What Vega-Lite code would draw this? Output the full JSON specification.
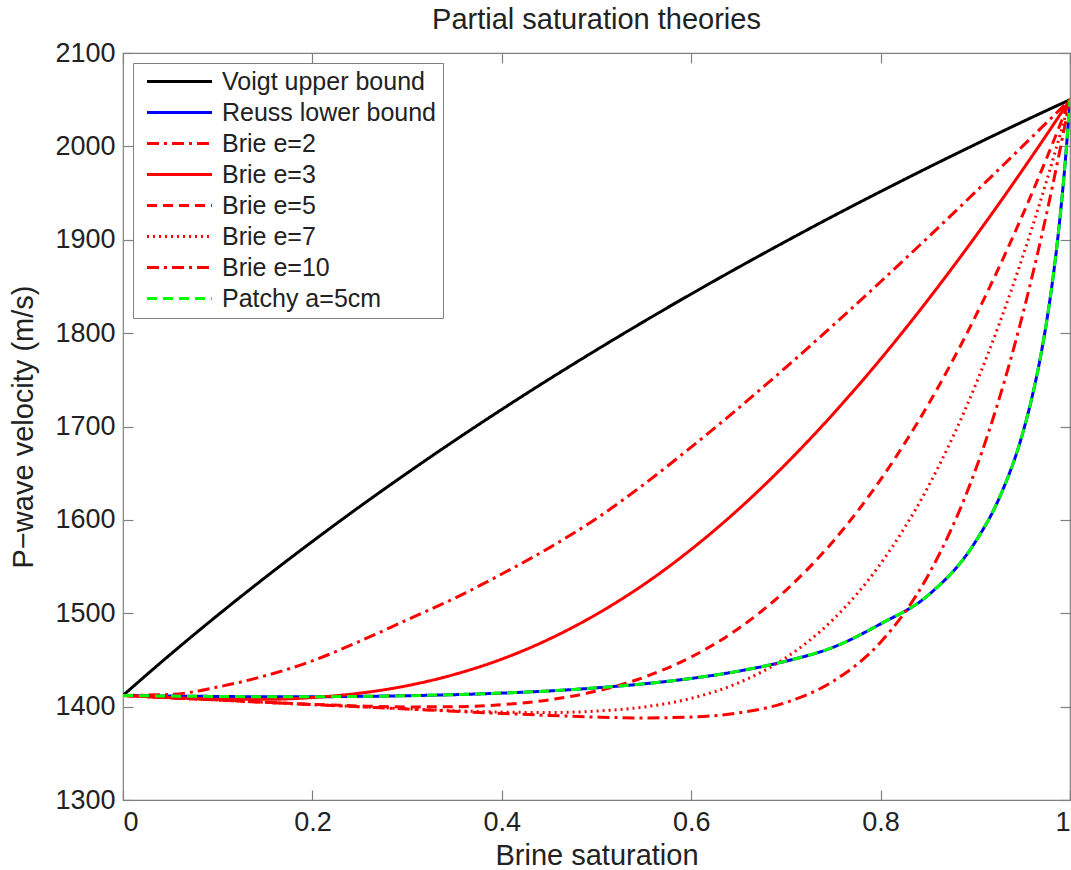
{
  "$schema": "https://vega.github.io/schema/vega-lite/v6.json",
  "width": 947,
  "height": 747,
  "autosize": "none",
  "padding": {"left": 123, "top": 53, "right": 1, "bottom": 70},
  "background": "white",
  "title": {"text": "Partial saturation theories", "font": "Liberation Sans", "fontSize": 29, "fontWeight": "normal", "color": "#222222", "offset": 4, "anchor": "middle"},
  "config": {
    "view": {"stroke": "#808080", "strokeWidth": 1.2},
    "axis": {"grid": false, "domain": false, "tickColor": "#808080", "tickSize": -10, "tickWidth": 1.2, "labelFont": "Liberation Sans", "labelFontSize": 27, "labelColor": "#222222", "titleFont": "Liberation Sans", "titleFontSize": 29, "titleFontWeight": "normal", "titleColor": "#222222"}
  },
  "datasets": {
    "main": [
      {"s":0,"v":1412,"c":"Voigt upper bound"},{"s":0.05,"v":1455.9,"c":"Voigt upper bound"},{"s":0.1,"v":1497.9,"c":"Voigt upper bound"},{"s":0.15,"v":1538.2,"c":"Voigt upper bound"},{"s":0.2,"v":1576.9,"c":"Voigt upper bound"},{"s":0.25,"v":1614.2,"c":"Voigt upper bound"},{"s":0.3,"v":1650.1,"c":"Voigt upper bound"},{"s":0.35,"v":1684.8,"c":"Voigt upper bound"},{"s":0.4,"v":1718.3,"c":"Voigt upper bound"},{"s":0.45,"v":1750.7,"c":"Voigt upper bound"},{"s":0.5,"v":1782.0,"c":"Voigt upper bound"},{"s":0.55,"v":1812.4,"c":"Voigt upper bound"},{"s":0.6,"v":1841.9,"c":"Voigt upper bound"},{"s":0.65,"v":1870.5,"c":"Voigt upper bound"},{"s":0.7,"v":1898.3,"c":"Voigt upper bound"},{"s":0.75,"v":1925.4,"c":"Voigt upper bound"},{"s":0.8,"v":1951.6,"c":"Voigt upper bound"},{"s":0.85,"v":1977.2,"c":"Voigt upper bound"},{"s":0.9,"v":2002.1,"c":"Voigt upper bound"},{"s":0.95,"v":2026.4,"c":"Voigt upper bound"},{"s":1,"v":2050,"c":"Voigt upper bound"},
      {"s":0,"v":1412,"c":"Reuss lower bound"},{"s":0.05,"v":1411.3,"c":"Reuss lower bound"},{"s":0.1,"v":1410.9,"c":"Reuss lower bound"},{"s":0.15,"v":1410.6,"c":"Reuss lower bound"},{"s":0.2,"v":1410.6,"c":"Reuss lower bound"},{"s":0.25,"v":1411.0,"c":"Reuss lower bound"},{"s":0.3,"v":1411.7,"c":"Reuss lower bound"},{"s":0.35,"v":1412.8,"c":"Reuss lower bound"},{"s":0.4,"v":1414.5,"c":"Reuss lower bound"},{"s":0.45,"v":1416.8,"c":"Reuss lower bound"},{"s":0.5,"v":1420.1,"c":"Reuss lower bound"},{"s":0.55,"v":1424.4,"c":"Reuss lower bound"},{"s":0.6,"v":1430.2,"c":"Reuss lower bound"},{"s":0.65,"v":1438.0,"c":"Reuss lower bound"},{"s":0.7,"v":1448.7,"c":"Reuss lower bound"},{"s":0.75,"v":1463.6,"c":"Reuss lower bound"},{"s":0.8,"v":1488.6,"c":"Reuss lower bound"},{"s":0.85,"v":1519.1,"c":"Reuss lower bound"},{"s":0.9,"v":1576.4,"c":"Reuss lower bound"},{"s":0.925,"v":1622.7,"c":"Reuss lower bound"},{"s":0.95,"v":1692.7,"c":"Reuss lower bound"},{"s":0.96,"v":1731.8,"c":"Reuss lower bound"},{"s":0.97,"v":1780.8,"c":"Reuss lower bound"},{"s":0.975,"v":1810.3,"c":"Reuss lower bound"},{"s":0.98,"v":1844.1,"c":"Reuss lower bound"},{"s":0.985,"v":1883.2,"c":"Reuss lower bound"},{"s":0.99,"v":1929.2,"c":"Reuss lower bound"},{"s":0.995,"v":1983.8,"c":"Reuss lower bound"},{"s":1,"v":2050,"c":"Reuss lower bound"},
      {"s":0,"v":1412,"c":"Brie e=2"},{"s":0.05,"v":1413,"c":"Brie e=2"},{"s":0.1,"v":1421,"c":"Brie e=2"},{"s":0.15,"v":1433,"c":"Brie e=2"},{"s":0.2,"v":1449,"c":"Brie e=2"},{"s":0.25,"v":1470,"c":"Brie e=2"},{"s":0.3,"v":1493,"c":"Brie e=2"},{"s":0.35,"v":1516,"c":"Brie e=2"},{"s":0.4,"v":1542,"c":"Brie e=2"},{"s":0.45,"v":1570,"c":"Brie e=2"},{"s":0.5,"v":1601.5,"c":"Brie e=2"},{"s":0.55,"v":1638.0,"c":"Brie e=2"},{"s":0.6,"v":1677.9,"c":"Brie e=2"},{"s":0.65,"v":1719.7,"c":"Brie e=2"},{"s":0.7,"v":1763.4,"c":"Brie e=2"},{"s":0.75,"v":1808.5,"c":"Brie e=2"},{"s":0.8,"v":1855.0,"c":"Brie e=2"},{"s":0.85,"v":1902.5,"c":"Brie e=2"},{"s":0.9,"v":1951.0,"c":"Brie e=2"},{"s":0.925,"v":1975.5,"c":"Brie e=2"},{"s":0.95,"v":2000.2,"c":"Brie e=2"},{"s":0.975,"v":2025.1,"c":"Brie e=2"},{"s":1,"v":2050,"c":"Brie e=2"},
      {"s":0,"v":1412,"c":"Brie e=3"},{"s":0.05,"v":1409.6,"c":"Brie e=3"},{"s":0.1,"v":1408.0,"c":"Brie e=3"},{"s":0.15,"v":1407.8,"c":"Brie e=3"},{"s":0.2,"v":1409.7,"c":"Brie e=3"},{"s":0.25,"v":1414.4,"c":"Brie e=3"},{"s":0.3,"v":1422.4,"c":"Brie e=3"},{"s":0.35,"v":1434.5,"c":"Brie e=3"},{"s":0.4,"v":1450.9,"c":"Brie e=3"},{"s":0.45,"v":1472.3,"c":"Brie e=3"},{"s":0.5,"v":1498.9,"c":"Brie e=3"},{"s":0.55,"v":1530.8,"c":"Brie e=3"},{"s":0.6,"v":1568.4,"c":"Brie e=3"},{"s":0.65,"v":1611.4,"c":"Brie e=3"},{"s":0.7,"v":1659.9,"c":"Brie e=3"},{"s":0.75,"v":1713.6,"c":"Brie e=3"},{"s":0.8,"v":1772.2,"c":"Brie e=3"},{"s":0.85,"v":1835.6,"c":"Brie e=3"},{"s":0.9,"v":1903.3,"c":"Brie e=3"},{"s":0.925,"v":1938.6,"c":"Brie e=3"},{"s":0.95,"v":1974.9,"c":"Brie e=3"},{"s":0.975,"v":2012.0,"c":"Brie e=3"},{"s":1,"v":2050,"c":"Brie e=3"},
      {"s":0,"v":1412,"c":"Brie e=5"},{"s":0.05,"v":1409.5,"c":"Brie e=5"},{"s":0.1,"v":1407.1,"c":"Brie e=5"},{"s":0.15,"v":1404.7,"c":"Brie e=5"},{"s":0.2,"v":1402.5,"c":"Brie e=5"},{"s":0.25,"v":1400.7,"c":"Brie e=5"},{"s":0.3,"v":1399.7,"c":"Brie e=5"},{"s":0.35,"v":1399.9,"c":"Brie e=5"},{"s":0.4,"v":1402.1,"c":"Brie e=5"},{"s":0.45,"v":1407.3,"c":"Brie e=5"},{"s":0.5,"v":1416.6,"c":"Brie e=5"},{"s":0.55,"v":1431.4,"c":"Brie e=5"},{"s":0.6,"v":1453.2,"c":"Brie e=5"},{"s":0.65,"v":1483.7,"c":"Brie e=5"},{"s":0.7,"v":1524.6,"c":"Brie e=5"},{"s":0.75,"v":1577.2,"c":"Brie e=5"},{"s":0.8,"v":1643.1,"c":"Brie e=5"},{"s":0.85,"v":1723.0,"c":"Brie e=5"},{"s":0.9,"v":1817.6,"c":"Brie e=5"},{"s":0.925,"v":1870.3,"c":"Brie e=5"},{"s":0.95,"v":1926.7,"c":"Brie e=5"},{"s":0.975,"v":1986.6,"c":"Brie e=5"},{"s":1,"v":2050,"c":"Brie e=5"},
      {"s":0,"v":1412,"c":"Brie e=7"},{"s":0.05,"v":1409.5,"c":"Brie e=7"},{"s":0.1,"v":1407.1,"c":"Brie e=7"},{"s":0.15,"v":1404.6,"c":"Brie e=7"},{"s":0.2,"v":1402.2,"c":"Brie e=7"},{"s":0.25,"v":1399.8,"c":"Brie e=7"},{"s":0.3,"v":1397.6,"c":"Brie e=7"},{"s":0.35,"v":1395.6,"c":"Brie e=7"},{"s":0.4,"v":1394.2,"c":"Brie e=7"},{"s":0.45,"v":1393.7,"c":"Brie e=7"},{"s":0.5,"v":1395.2,"c":"Brie e=7"},{"s":0.55,"v":1399.6,"c":"Brie e=7"},{"s":0.6,"v":1408.9,"c":"Brie e=7"},{"s":0.65,"v":1425.5,"c":"Brie e=7"},{"s":0.7,"v":1452.4,"c":"Brie e=7"},{"s":0.75,"v":1493.5,"c":"Brie e=7"},{"s":0.8,"v":1553.0,"c":"Brie e=7"},{"s":0.85,"v":1635.1,"c":"Brie e=7"},{"s":0.9,"v":1743.8,"c":"Brie e=7"},{"s":0.925,"v":1809.0,"c":"Brie e=7"},{"s":0.95,"v":1881.7,"c":"Brie e=7"},{"s":0.975,"v":1962.0,"c":"Brie e=7"},{"s":1,"v":2050,"c":"Brie e=7"},
      {"s":0,"v":1412,"c":"Brie e=10"},{"s":0.05,"v":1409.5,"c":"Brie e=10"},{"s":0.1,"v":1407.1,"c":"Brie e=10"},{"s":0.15,"v":1404.6,"c":"Brie e=10"},{"s":0.2,"v":1402.2,"c":"Brie e=10"},{"s":0.25,"v":1399.8,"c":"Brie e=10"},{"s":0.3,"v":1397.4,"c":"Brie e=10"},{"s":0.35,"v":1395.0,"c":"Brie e=10"},{"s":0.4,"v":1392.7,"c":"Brie e=10"},{"s":0.45,"v":1390.6,"c":"Brie e=10"},{"s":0.5,"v":1388.8,"c":"Brie e=10"},{"s":0.55,"v":1387.9,"c":"Brie e=10"},{"s":0.6,"v":1388.8,"c":"Brie e=10"},{"s":0.65,"v":1393.3,"c":"Brie e=10"},{"s":0.7,"v":1404.4,"c":"Brie e=10"},{"s":0.75,"v":1427.2,"c":"Brie e=10"},{"s":0.8,"v":1469.0,"c":"Brie e=10"},{"s":0.85,"v":1540.2,"c":"Brie e=10"},{"s":0.9,"v":1653.0,"c":"Brie e=10"},{"s":0.925,"v":1729.0,"c":"Brie e=10"},{"s":0.95,"v":1819.8,"c":"Brie e=10"},{"s":0.975,"v":1926.6,"c":"Brie e=10"},{"s":1,"v":2050,"c":"Brie e=10"}
    ],
    "patchy": [
      {"s":0,"v":1412,"c":"Patchy a=5cm"},{"s":0.05,"v":1411.3,"c":"Patchy a=5cm"},{"s":0.1,"v":1410.9,"c":"Patchy a=5cm"},{"s":0.15,"v":1410.6,"c":"Patchy a=5cm"},{"s":0.2,"v":1410.6,"c":"Patchy a=5cm"},{"s":0.25,"v":1411.0,"c":"Patchy a=5cm"},{"s":0.3,"v":1411.7,"c":"Patchy a=5cm"},{"s":0.35,"v":1412.8,"c":"Patchy a=5cm"},{"s":0.4,"v":1414.5,"c":"Patchy a=5cm"},{"s":0.45,"v":1416.8,"c":"Patchy a=5cm"},{"s":0.5,"v":1420.1,"c":"Patchy a=5cm"},{"s":0.55,"v":1424.4,"c":"Patchy a=5cm"},{"s":0.6,"v":1430.2,"c":"Patchy a=5cm"},{"s":0.65,"v":1438.0,"c":"Patchy a=5cm"},{"s":0.7,"v":1448.7,"c":"Patchy a=5cm"},{"s":0.75,"v":1463.6,"c":"Patchy a=5cm"},{"s":0.8,"v":1488.6,"c":"Patchy a=5cm"},{"s":0.85,"v":1519.1,"c":"Patchy a=5cm"},{"s":0.9,"v":1576.4,"c":"Patchy a=5cm"},{"s":0.925,"v":1622.7,"c":"Patchy a=5cm"},{"s":0.95,"v":1692.7,"c":"Patchy a=5cm"},{"s":0.96,"v":1731.8,"c":"Patchy a=5cm"},{"s":0.97,"v":1780.8,"c":"Patchy a=5cm"},{"s":0.975,"v":1810.3,"c":"Patchy a=5cm"},{"s":0.98,"v":1844.1,"c":"Patchy a=5cm"},{"s":0.985,"v":1883.2,"c":"Patchy a=5cm"},{"s":0.99,"v":1929.2,"c":"Patchy a=5cm"},{"s":0.995,"v":1983.8,"c":"Patchy a=5cm"},{"s":1,"v":2050,"c":"Patchy a=5cm"}
    ]
  },
  "resolve": {"axis": {"x": "independent", "y": "independent"}},
  "layer": [
    {
      "data": {"name": "main"},
      "mark": {"type": "line", "interpolate": "monotone", "clip": true},
      "encoding": {
        "x": {"field": "s", "type": "quantitative", "scale": {"domain": [0, 1], "nice": false, "zero": false}, "axis": {"values": [0, 0.2, 0.4, 0.6, 0.8, 1], "format": "~g", "title": "Brine saturation", "labelPadding": 19, "titlePadding": 6}},
        "y": {"field": "v", "type": "quantitative", "scale": {"domain": [1300, 2100], "nice": false, "zero": false}, "axis": {"values": [1300, 1400, 1500, 1600, 1700, 1800, 1900, 2000, 2100], "format": "d", "title": "P\u2212wave velocity (m/s)", "labelPadding": 18, "titlePadding": 16}},
        "color": {"field": "c", "type": "nominal", "scale": {"domain": ["Voigt upper bound", "Reuss lower bound", "Brie e=2", "Brie e=3", "Brie e=5", "Brie e=7", "Brie e=10", "Patchy a=5cm"], "range": ["#000000", "#0000ff", "#ff0000", "#ff0000", "#ff0000", "#ff0000", "#ff0000", "#00ff00"]},
          "legend": {"orient": "none", "legendX": 10, "legendY": 10, "title": null, "symbolType": "M-3,0H3", "symbolSize": 470, "symbolStrokeWidth": 3, "symbolOffset": 28, "labelOffset": 30, "labelFont": "Liberation Sans", "labelFontSize": 25, "labelColor": "#222222", "labelLimit": 400, "rowPadding": 5, "padding": 6, "strokeColor": "#808080", "fillColor": "white"}},
        "strokeDash": {"field": "c", "type": "nominal", "scale": {"domain": ["Voigt upper bound", "Reuss lower bound", "Brie e=2", "Brie e=3", "Brie e=5", "Brie e=7", "Brie e=10", "Patchy a=5cm"], "range": [[1, 0], [1, 0], [12, 5, 3, 5], [1, 0], [10, 6], [2, 4], [12, 5, 3, 5], [10, 6]]},
          "legend": {"orient": "none", "legendX": 10, "legendY": 10, "title": null, "symbolType": "M-3,0H3", "symbolSize": 470, "symbolStrokeWidth": 3, "symbolOffset": 28, "labelOffset": 30, "labelFont": "Liberation Sans", "labelFontSize": 25, "labelColor": "#222222", "labelLimit": 400, "rowPadding": 5, "padding": 6, "strokeColor": "#808080", "fillColor": "white"}},
        "strokeWidth": {"field": "c", "type": "nominal", "scale": {"domain": ["Voigt upper bound", "Reuss lower bound", "Brie e=2", "Brie e=3", "Brie e=5", "Brie e=7", "Brie e=10", "Patchy a=5cm"], "range": [3, 3, 2.5, 2.5, 2.5, 2, 2.5, 3.5]}, "legend": null}
      }
    },
    {
      "data": {"name": "patchy"},
      "mark": {"type": "line", "interpolate": "monotone", "clip": true},
      "encoding": {
        "x": {"field": "s", "type": "quantitative", "axis": {"orient": "top", "values": [0, 0.2, 0.4, 0.6, 0.8, 1], "labels": false, "title": null}},
        "y": {"field": "v", "type": "quantitative", "axis": {"orient": "right", "values": [1300, 1400, 1500, 1600, 1700, 1800, 1900, 2000, 2100], "labels": false, "title": null}},
        "color": {"field": "c", "type": "nominal"},
        "strokeDash": {"field": "c", "type": "nominal"},
        "strokeWidth": {"field": "c", "type": "nominal", "legend": null}
      }
    }
  ]
}
